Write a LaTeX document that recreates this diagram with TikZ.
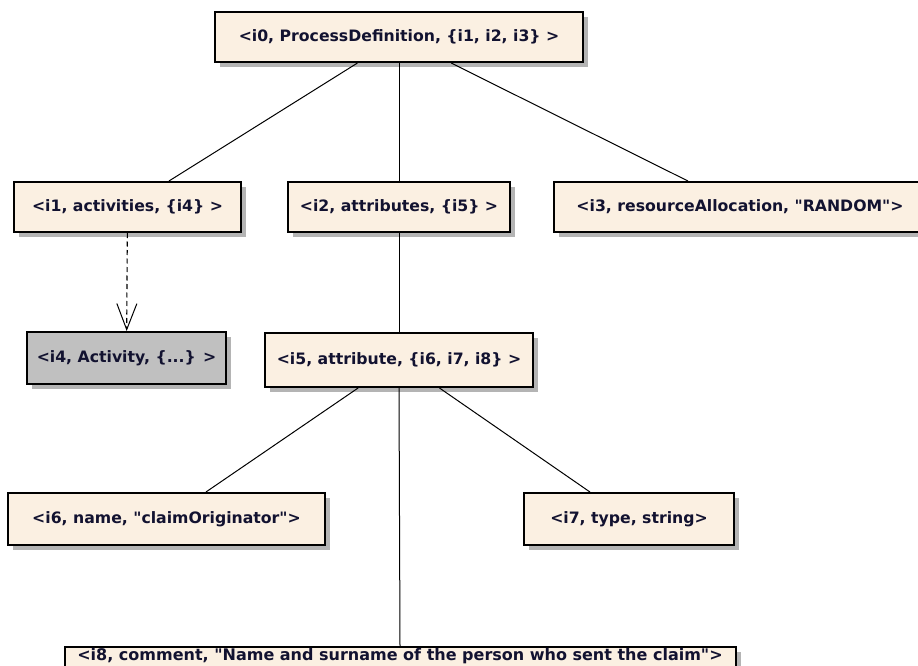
\documentclass[tikz,border=0pt]{standalone}
\usepackage{fontspec}
\usetikzlibrary{arrows.meta,shadows}
\newfontfamily\boxfont{DejaVu Sans}
\definecolor{boxfill}{RGB}{251,240,226}
\definecolor{refgray}{RGB}{192,192,192}
\definecolor{shadowgray}{RGB}{180,180,180}
\definecolor{textink}{RGB}{18,18,48}
\tikzset{
  elem/.style={draw=black, line width=2pt, fill=boxfill, inner sep=0pt,
    minimum height=50pt, text=textink,
    font=\boxfont\bfseries\fontsize{15.7pt}{18pt}\selectfont,
    drop shadow={shadow xshift=5pt, shadow yshift=-5pt, fill=shadowgray, opacity=1}},
  refelem/.style={elem, fill=refgray},
  link/.style={draw=black, line width=1pt},
  deplink/.style={link, line width=1.1pt, dash pattern=on 5pt off 3.5pt,
    -{Straight Barb[length=26pt, width=20pt, line width=1pt]}}
}
\begin{document}
\begin{tikzpicture}[x=1pt, y=-1pt]
  \useasboundingbox (0,0) rectangle (918,666);

  \node[elem, minimum width=368pt] (i0) at (399,37)
    {<i0, ProcessDefinition, \{i1, i2, i3\} >};
  \node[elem, minimum width=227pt] (i1) at (127.5,207)
    {<i1, activities, \{i4\} >};
  \node[elem, minimum width=222pt] (i2) at (399,207)
    {<i2, attributes, \{i5\} >};
  \node[elem, minimum width=372pt] (i3) at (740,207)
    {<i3, resourceAllocation, "RANDOM">};
  \node[refelem, minimum width=199pt, minimum height=52pt] (i4) at (126.5,358)
    {<i4, Activity, \{...\} >};
  \node[elem, minimum width=268pt, minimum height=54pt] (i5) at (399,360)
    {<i5, attribute, \{i6, i7, i8\} >};
  \node[elem, minimum width=317pt, minimum height=52pt] (i6) at (166.5,519)
    {<i6, name, "claimOriginator">};
  \node[elem, minimum width=210pt, minimum height=52pt] (i7) at (629,519)
    {<i7, type, string>};
  % the lowest element runs past the bottom edge; its text sits near its top
  \node[elem, minimum width=671pt, text height=13pt, text depth=37pt,
        font=\boxfont\bfseries\fontsize{16pt}{18pt}\selectfont,
        anchor=north] (i8) at (400,646)
    {<i8, comment, "Name and surname of the person who sent the claim">};

  \draw[link] (i0) -- (i1);
  \draw[link] (i0) -- (i2);
  \draw[link] (i0) -- (i3);
  \draw[deplink] (i1) -- (i4);
  \draw[link] (i2) -- (i5);
  \draw[link] (i5) -- (i6);
  \draw[link] (i5) -- (i7);
  \draw[link] (i5.south) -- (i8.north);
\end{tikzpicture}
\end{document}
